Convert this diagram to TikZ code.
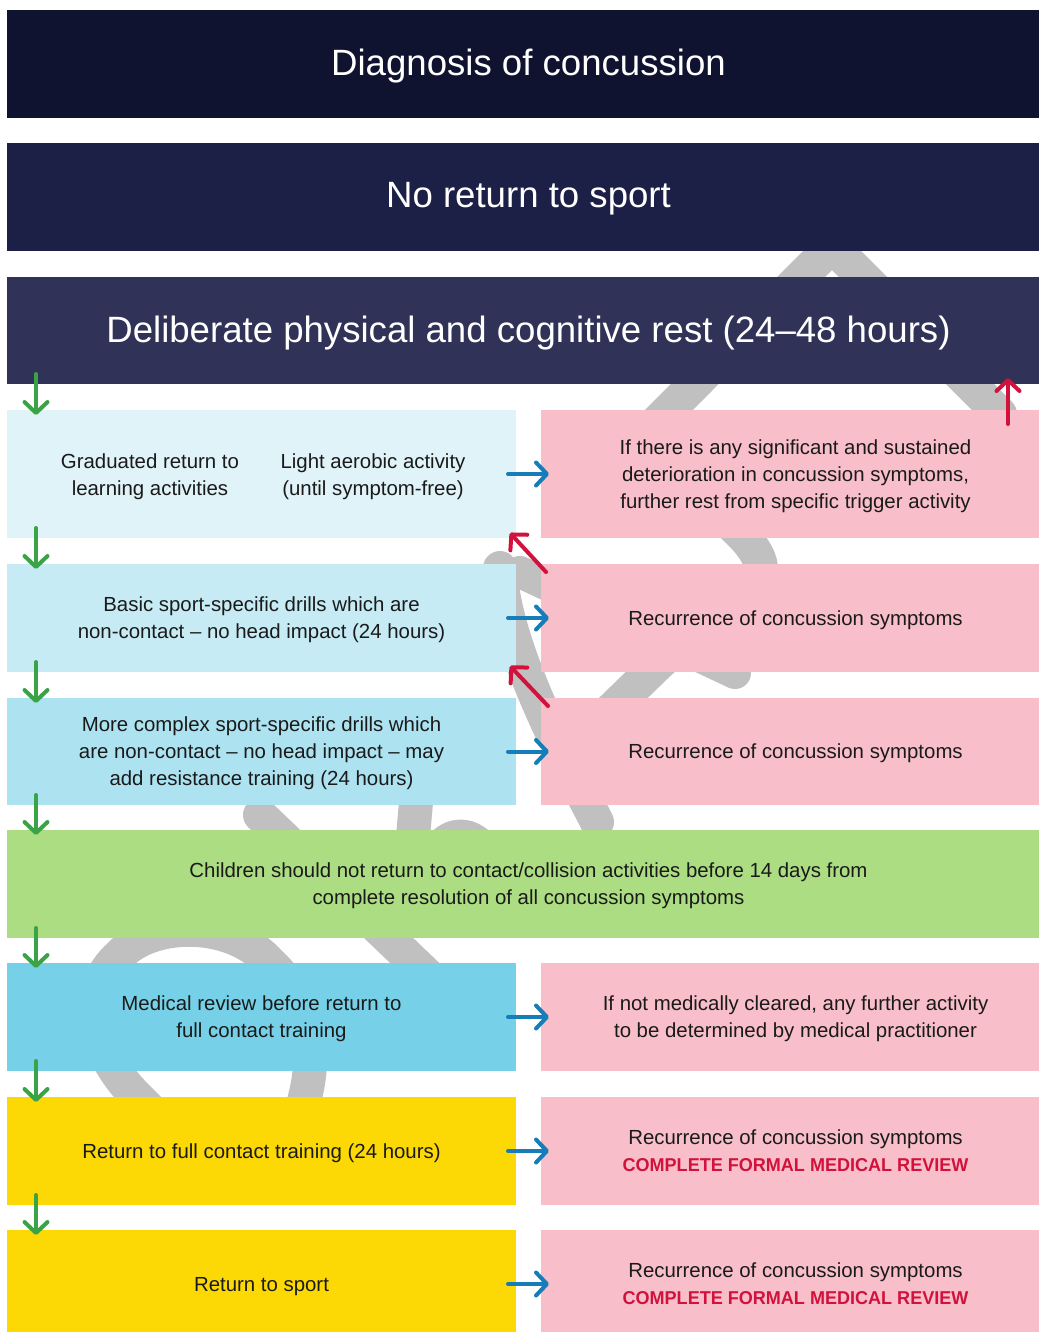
\documentclass[tikz,border=0pt]{standalone}
\usepackage{fontspec}
\setmainfont{Liberation Sans}
\usepackage{graphicx}
\usetikzlibrary{arrows.meta, calc}
\definecolor{navydark}{RGB}{15, 19, 48}
\definecolor{navymid}{RGB}{29, 32, 70}
\definecolor{navylight}{RGB}{48, 50, 87}
\definecolor{cyanpale}{RGB}{224, 243, 248}
\definecolor{cyansoft}{RGB}{199, 235, 244}
\definecolor{cyanmid}{RGB}{173, 226, 240}
\definecolor{cyandeep}{RGB}{118, 209, 232}
\definecolor{alertpink}{RGB}{248, 191, 202}
\definecolor{kidsgreen}{RGB}{172, 221, 130}
\definecolor{sportyellow}{RGB}{252, 216, 4}
\definecolor{stepgreen}{RGB}{58, 163, 69}
\definecolor{sideblue}{RGB}{22, 125, 185}
\definecolor{backred}{RGB}{208, 18, 60}
\definecolor{figgrey}{RGB}{192, 192, 192}
\definecolor{bodyink}{RGB}{26, 26, 26}
\newcommand{\formalreview}{{\color{backred}\bfseries\fontsize{18.6}{27}\selectfont\scalebox{0.97}[1]{COMPLETE FORMAL MEDICAL REVIEW}}}

\begin{document}
\begin{tikzpicture}[x=1pt, y=-1pt,
  words/.style={align=center, text=bodyink, font=\fontsize{20.4}{27}\selectfont, text depth=-2pt},
  stage/.style={words, anchor=north west, inner sep=0pt, outer sep=0pt, minimum height=108pt},
  leftbox/.style={stage, minimum width=509pt},
  rightbox/.style={stage, minimum width=509pt, fill=alertpink},
  widebox/.style={stage, minimum width=1043pt},
  headbox/.style={widebox, text=white, font=\fontsize{36.6}{44}\selectfont, text depth=3.5pt},
  silhouette/.style={figgrey, line width=34pt, line cap=round, line join=round},
  barb/.style={line width=4pt, line cap=round, -{Straight Barb[length=11pt, width=23pt, round]}},
  nextstep/.style={barb, stepgreen},
  onsymptom/.style={barb, sideblue},
  stepback/.style={barb, backred}]

  \path[use as bounding box, fill=white] (0,0) rectangle (1038,1332);

  % Grey figure behind the stages (only the gaps show it)
  \draw[silhouette] (1000,414) -- (832,246) -- (643,436) -- (740,533)
    .. controls (800,593) and (720,602) .. (649,673) -- (575,745);
  \draw[silhouette] (500,568) .. controls (505,650) and (565,760) .. (597,822);
  \draw[silhouette, line width=32pt] (520,572) -- (735,673);
  \draw[silhouette] (260,815) -- (490,1035);
  \draw[silhouette] (418,780) -- (410,870);
  \draw[silhouette] (425,880) .. controls (440,822) and (480,822) .. (500,880);
  \draw[silhouette] (190,1150) -- (137,1097) .. controls (90,1050) and (80,990) .. (120,955)
    .. controls (150,922) and (230,918) .. (270,963) .. controls (300,990) and (320,1040) .. (305,1097) -- (295,1140);

  % Header bands
  \node[headbox, fill=navydark] (diag) at (7,10) {Diagnosis of concussion};
  \node[headbox, fill=navymid] (noreturn) at (7,143) {No return to sport};
  \node[headbox, fill=navylight, minimum height=107pt] (rest) at (7,277) {Deliberate physical and cognitive rest (24--48 hours)};

  % Stages (left) and what happens on symptoms (right)
  \node[leftbox, fill=cyanpale, minimum height=128pt] (grad) at (7,410) {};
  \node[words] (learn) at (150,475) {Graduated return to\\learning activities};
  \node[words] (aerobic) at (373,475) {Light aerobic activity\\(until symptom-free)};
  \node[rightbox, minimum height=128pt] (sust) at (541,410) {If there is any significant and sustained\\deterioration in concussion symptoms,\\further rest from specific trigger activity};

  \node[leftbox, fill=cyansoft] (basic) at (7,564) {Basic sport-specific drills which are\\non-contact -- no head impact (24 hours)};
  \node[rightbox] (rec1) at (541,564) {Recurrence of concussion symptoms};

  \node[leftbox, fill=cyanmid, minimum height=107pt] (complex) at (7,698) {More complex sport-specific drills which\\are non-contact -- no head impact -- may\\add resistance training (24 hours)};
  \node[rightbox, minimum height=107pt] (rec2) at (541,698) {Recurrence of concussion symptoms};

  \node[widebox, fill=kidsgreen] (kids) at (7,830) {Children should not return to contact/collision activities before 14 days from\\complete resolution of all concussion symptoms};

  \node[leftbox, fill=cyandeep] (medrev) at (7,963) {Medical review before return to\\full contact training};
  \node[rightbox] (notclear) at (541,963) {If not medically cleared, any further activity\\to be determined by medical practitioner};

  \node[leftbox, fill=sportyellow] (fulltrain) at (7,1097) {Return to full contact training (24 hours)};
  \node[rightbox] (rec3) at (541,1097) {Recurrence of concussion symptoms\\\formalreview};

  \node[leftbox, fill=sportyellow] (sport) at (7,1230) {Return to sport};
  \node[rightbox] (rec4) at (541,1230) {Recurrence of concussion symptoms\\\formalreview};

  % Arrows
  \foreach \a/\b in {rest/grad, grad/basic, basic/complex, complex/kids, kids/medrev, medrev/fulltrain, fulltrain/sport}
    \draw[nextstep] ($(\a.south west)+(29,-10)$) -- ($(\b.north west)+(29,5)$);
  \foreach \a/\b in {grad/sust, basic/rec1, complex/rec2, medrev/notclear, fulltrain/rec3, sport/rec4}
    \draw[onsymptom] ($(\a.east)+(-8,0)$) -- ($(\b.west)+(8,0)$);
  \draw[stepback] ($(sust.north east)+(-42,14)$) -- ($(rest.south east)+(-42,-6)$);
  \draw[stepback] ($(rec1.north west)+(5,8)$) -- ($(grad.south east)+(-6,-5)$);
  \draw[stepback] ($(rec2.north west)+(7,8)$) -- ($(basic.south east)+(-6,-6)$);
\end{tikzpicture}
\end{document}
